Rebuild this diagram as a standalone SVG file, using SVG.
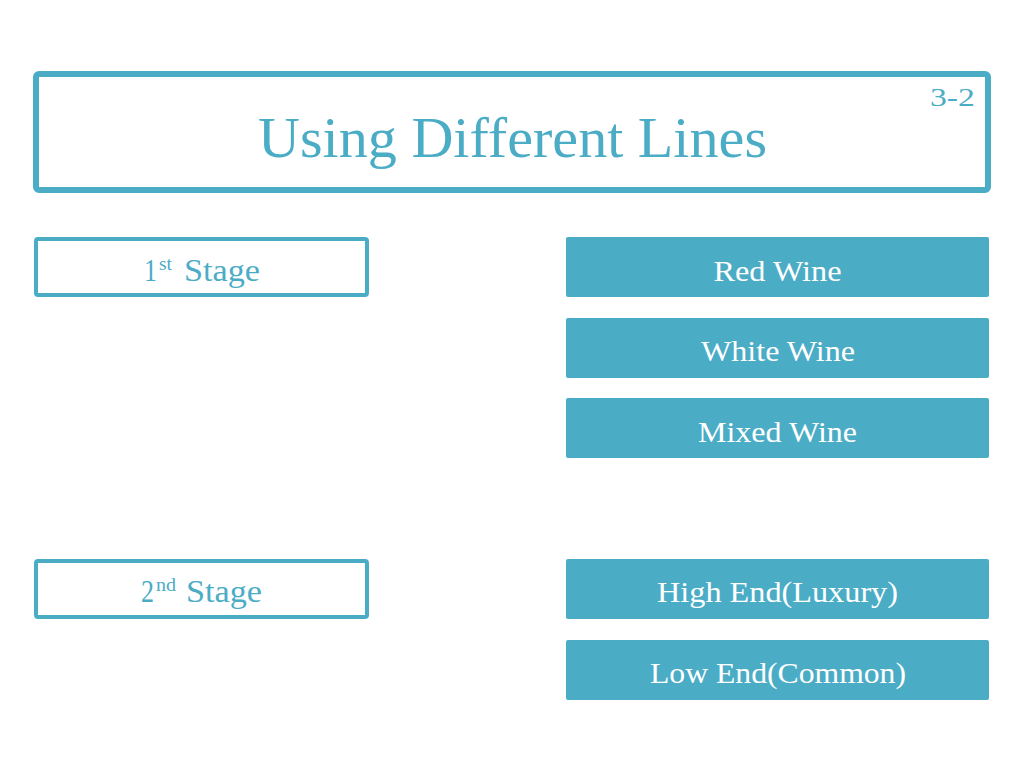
<svg xmlns="http://www.w3.org/2000/svg" width="1024" height="768" viewBox="0 0 1024 768">
<style>
.t{font-family:"Liberation Serif","DejaVu Serif",serif;text-anchor:middle}
.s{font-family:"Liberation Serif","DejaVu Serif",serif;text-anchor:start}
.ol{fill:#ffffff;stroke:#4bacc6}
.fl{fill:#4bacc6}
.dk{fill:#4bacc6}
.wt{fill:#ffffff}
</style>
<rect width="1024" height="768" fill="#ffffff"/>
<g id="title">
<rect class="ol" x="36" y="74" width="952" height="116" rx="3" stroke-width="6"/>
<text class="t dk" x="512.5" y="157" font-size="57" textLength="509" lengthAdjust="spacingAndGlyphs">Using Different Lines</text>
<text class="s dk" x="930" y="106" font-size="26" textLength="45" lengthAdjust="spacingAndGlyphs">3-2</text>
</g>
<g id="stage1">
<rect class="ol" x="36" y="239" width="331" height="56" rx="2" stroke-width="4"/>
<text class="s dk" x="144" y="281" font-size="32" textLength="13" lengthAdjust="spacingAndGlyphs">1</text>
<text class="s dk" x="159" y="270" font-size="18" textLength="13" lengthAdjust="spacingAndGlyphs">st</text>
<text class="s dk" x="184" y="281" font-size="31" textLength="76" lengthAdjust="spacingAndGlyphs">Stage</text>
</g>
<g id="stage2">
<rect class="ol" x="36" y="561" width="331" height="56" rx="2" stroke-width="4"/>
<text class="s dk" x="141" y="602" font-size="32" textLength="13" lengthAdjust="spacingAndGlyphs">2</text>
<text class="s dk" x="156" y="591" font-size="18" textLength="20" lengthAdjust="spacingAndGlyphs">nd</text>
<text class="s dk" x="186" y="602" font-size="31" textLength="76" lengthAdjust="spacingAndGlyphs">Stage</text>
</g>
<g id="red">
<rect class="fl" x="566" y="237" width="423" height="60" rx="2"/>
<text class="t wt" x="777.5" y="281" font-size="30" textLength="128" lengthAdjust="spacingAndGlyphs">Red Wine</text>
</g>
<g id="white">
<rect class="fl" x="566" y="318" width="423" height="60" rx="2"/>
<text class="t wt" x="778" y="361" font-size="30" textLength="154" lengthAdjust="spacingAndGlyphs">White Wine</text>
</g>
<g id="mixed">
<rect class="fl" x="566" y="398" width="423" height="60" rx="2"/>
<text class="t wt" x="777.5" y="442" font-size="30" textLength="159" lengthAdjust="spacingAndGlyphs">Mixed Wine</text>
</g>
<g id="high">
<rect class="fl" x="566" y="559" width="423" height="60" rx="2"/>
<text class="t wt" x="777.5" y="602" font-size="30" textLength="241" lengthAdjust="spacingAndGlyphs">High End(Luxury)</text>
</g>
<g id="low">
<rect class="fl" x="566" y="640" width="423" height="60" rx="2"/>
<text class="t wt" x="778" y="683" font-size="30" textLength="256" lengthAdjust="spacingAndGlyphs">Low End(Common)</text>
</g>
<g id="connectors"/>
</svg>
